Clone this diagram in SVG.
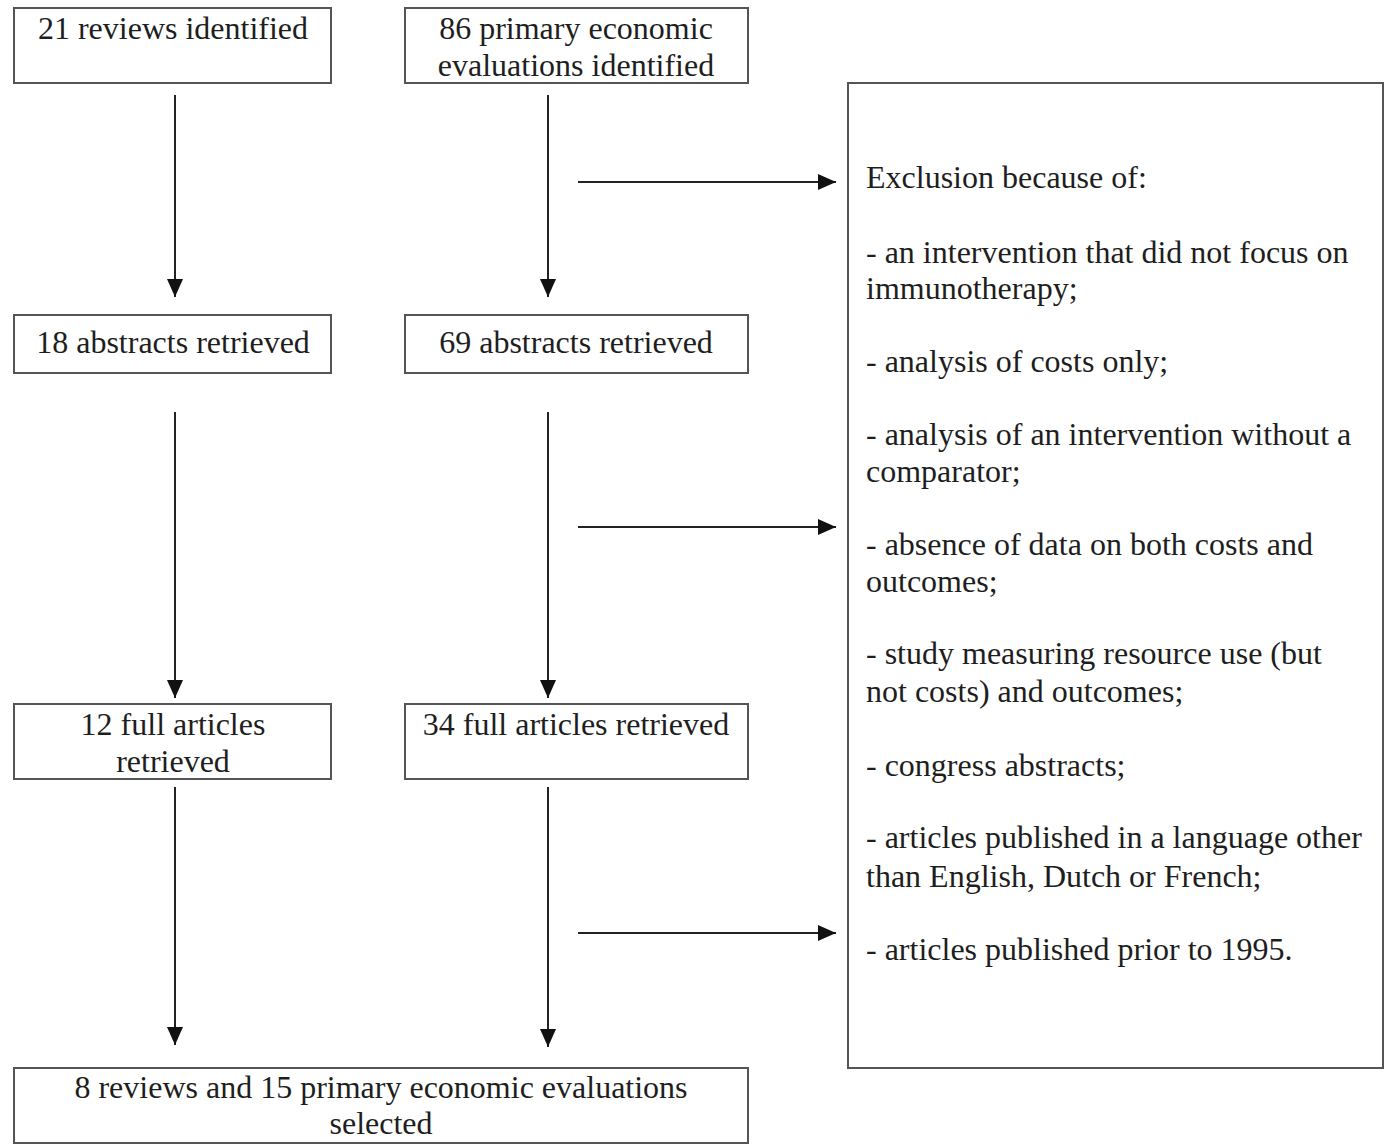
<svg xmlns="http://www.w3.org/2000/svg" width="1387" height="1148" viewBox="0 0 1387 1148">
<defs>
<style>
.box{fill:#fff;stroke:#555;stroke-width:2}
.t{font-family:"Liberation Serif","Times New Roman",serif;font-size:32px;fill:#1e1e1e}
.c{text-anchor:middle}
.ln{stroke:#222;stroke-width:2;fill:none}
</style>
<marker id="ah" viewBox="0 0 18 16" refX="18" refY="8" markerWidth="18" markerHeight="16" markerUnits="userSpaceOnUse" orient="auto">
<path d="M0,0 L18,8 L0,16 Z" fill="#111"/>
</marker>
</defs>
<rect width="1387" height="1148" fill="#fff"/>
<g id="n1"><rect class="box" x="14" y="8" width="317" height="75"/><text class="t c" x="173" y="39">21 reviews identified</text></g>
<g id="n2"><rect class="box" x="405" y="8" width="343" height="75"/><text class="t c" x="576" y="39">86 primary economic</text><text class="t c" x="576" y="76">evaluations identified</text></g>
<g id="n3"><rect class="box" x="14" y="315" width="317" height="58"/><text class="t c" x="173" y="353">18 abstracts retrieved</text></g>
<g id="n4"><rect class="box" x="405" y="315" width="343" height="58"/><text class="t c" x="576" y="353">69 abstracts retrieved</text></g>
<g id="n5"><rect class="box" x="14" y="704" width="317" height="75"/><text class="t c" x="173" y="735">12 full articles</text><text class="t c" x="173" y="772">retrieved</text></g>
<g id="n6"><rect class="box" x="405" y="704" width="343" height="75"/><text class="t c" x="576" y="735">34 full articles retrieved</text></g>
<g id="n7"><rect class="box" x="14" y="1068" width="734" height="75"/><text class="t c" x="381" y="1098">8 reviews and 15 primary economic evaluations</text><text class="t c" x="381" y="1134">selected</text></g>
<g id="excl"><rect class="box" x="848" y="83" width="535" height="985"/>
<text class="t" x="866" y="188">Exclusion because of:</text>
<text class="t" x="866" y="263">- an intervention that did not focus on</text>
<text class="t" x="866" y="299">immunotherapy;</text>
<text class="t" x="866" y="372">- analysis of costs only;</text>
<text class="t" x="866" y="445">- analysis of an intervention without a</text>
<text class="t" x="866" y="482">comparator;</text>
<text class="t" x="866" y="555">- absence of data on both costs and</text>
<text class="t" x="866" y="592">outcomes;</text>
<text class="t" x="866" y="664">- study measuring resource use (but</text>
<text class="t" x="866" y="702">not costs) and outcomes;</text>
<text class="t" x="866" y="776">- congress abstracts;</text>
<text class="t" x="866" y="848">- articles published in a language other</text>
<text class="t" x="866" y="887">than English, Dutch or French;</text>
<text class="t" x="866" y="960">- articles published prior to 1995.</text>
</g>
<g id="connectors">
<line class="ln" x1="175" y1="95" x2="175" y2="297" marker-end="url(#ah)"/>
<line class="ln" x1="548" y1="95" x2="548" y2="297" marker-end="url(#ah)"/>
<line class="ln" x1="175" y1="412" x2="175" y2="698" marker-end="url(#ah)"/>
<line class="ln" x1="548" y1="412" x2="548" y2="698" marker-end="url(#ah)"/>
<line class="ln" x1="175" y1="787" x2="175" y2="1045" marker-end="url(#ah)"/>
<line class="ln" x1="548" y1="787" x2="548" y2="1047" marker-end="url(#ah)"/>
<line class="ln" x1="578" y1="182" x2="836" y2="182" marker-end="url(#ah)"/>
<line class="ln" x1="578" y1="527" x2="836" y2="527" marker-end="url(#ah)"/>
<line class="ln" x1="578" y1="933" x2="836" y2="933" marker-end="url(#ah)"/>
</g>
</svg>
